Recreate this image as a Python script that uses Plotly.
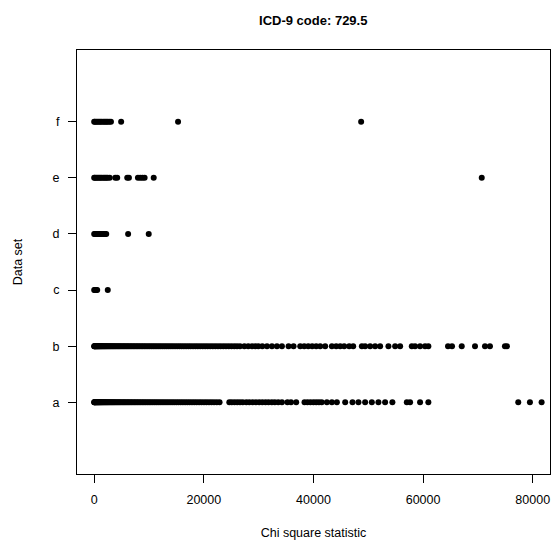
import plotly.graph_objects as go

# ---- data ----
categories = ["a", "b", "c", "d", "e", "f"]
cat_pos = [1, 2, 3, 4, 5, 6]

set_a = [0, 40, 90, 150, 230, 310, 400, 490, 580, 680, 780, 880, 990, 1100, 1220, 1340,
         1470, 1600, 1740, 1880, 2030, 2180, 2340, 2500, 2670, 2840, 3020, 3200, 3390,
         3580, 3780, 3980, 4190, 4400, 4620, 4840, 5070, 5300, 5540, 5780, 6030, 6280,
         6540, 6800, 7070, 7340, 7620, 7900, 8190, 8480, 8780, 9080, 9390, 9700, 10020,
         10340, 10670, 11000, 11340, 11680, 12030, 12380, 12740, 13100, 13470, 13840,
         14220, 14600, 14990, 15380, 15780, 16180, 16590, 17000, 17420, 17840, 18270,
         18700, 19140, 19580, 20030, 20480, 20940, 21400, 21870, 22370, 22870,
         24650, 25100, 25600, 26100, 26600, 27100, 27750, 28300, 28900, 29500, 30100,
         30670, 31250, 31800, 32400, 32950, 33580, 34250, 35250, 35900, 36850, 38370,
         38900, 39450, 40000, 40500, 41000, 41500, 42450, 43360, 44270, 45790, 47120,
         48210, 49430, 50650, 51850, 53070, 54400, 57030, 57630, 59450, 60960, 77360,
         79490, 81620]

set_b = [0, 50, 110, 180, 260, 350, 450, 550, 650, 760, 870, 990, 1110, 1240, 1370,
         1510, 1650, 1800, 1950, 2110, 2270, 2440, 2610, 2790, 2970, 3160, 3350, 3550,
         3750, 3960, 4170, 4390, 4610, 4840, 5070, 5310, 5550, 5800, 6050, 6310, 6570,
         6840, 7110, 7390, 7670, 7960, 8250, 8550, 8850, 9160, 9470, 9790, 10110, 10440,
         10770, 11110, 11450, 11800, 12150, 12510, 12870, 13240, 13610, 13990, 14370,
         14760, 15150, 15550, 15950, 16360, 16770, 17190, 17610, 18040, 18470, 18910,
         19350, 19800, 20250, 20710, 21170, 21640, 22110, 22590, 23070, 23560, 24050,
         24550, 25050, 25560, 26070, 26600,
         27400, 28110, 28800, 29390, 29940, 30670, 31520, 32430, 33340, 34250, 35460,
         36370, 37590, 38320, 39050, 39770, 40500, 41230, 42140, 43360, 44150, 44880,
         45610, 46520, 47250, 48830, 49430, 50340, 51250, 52160, 53680, 54900, 55810,
         57940, 58540, 59450, 60360, 60960, 64550, 65280, 67050, 69470, 71290, 72200,
         74930, 75300]

set_c = [0, 150, 350, 550, 2480]

set_d = [0, 150, 400, 650, 900, 1150, 1400, 1700, 1950, 2200, 6190, 9950]

set_e = [0, 150, 400, 650, 900, 1150, 1400, 1700, 1950, 2200, 2450, 2830, 3850, 4200,
         6030, 6340, 7980, 8400, 8800, 9200, 10860, 70700]

set_f = [0, 150, 400, 650, 900, 1150, 1400, 1700, 1950, 2200, 2450, 2750, 3060, 4920,
         15300, 48700]

x_ticks = [0, 20000, 40000, 60000, 80000]
x_tick_labels = ["0", "20000", "40000", "60000", "80000"]

title_text = "ICD-9 code: 729.5"
x_title = "Chi square statistic"
y_title = "Data set"

# ---- figure ----
series = [set_a, set_b, set_c, set_d, set_e, set_f]
fig = go.Figure()
for pos, vals in zip(cat_pos, series):
    fig.add_trace(go.Scatter(
        x=vals, y=[pos] * len(vals), mode="markers",
        marker=dict(color="black", size=6, line=dict(width=0)),
        showlegend=False, hoverinfo="x",
    ))

font_family = "Liberation Sans, Arial, sans-serif"
L, R, T, B = 76.5, 10, 50, 71.5
fig.update_layout(
    width=560, height=546,
    margin=dict(l=L, r=R, t=T, b=B, pad=0),
    paper_bgcolor="white", plot_bgcolor="white",
    font=dict(family=font_family, size=12, color="black"),
    title=dict(text="<b>" + title_text + "</b>", x=(L + 560 - R) / 2 / 560, xanchor="center",
               xref="container", y=1 - 20 / 546, yanchor="middle", yref="container",
               font=dict(size=13, family=font_family, color="black")),
)
fig.update_xaxes(
    range=[-3134, 83152], tickvals=x_ticks, ticktext=x_tick_labels,
    ticks="outside", ticklen=8, tickwidth=1, tickcolor="black",
    showline=True, linecolor="black", linewidth=1, mirror=True,
    showgrid=False, zeroline=False, automargin=False,
    tickfont=dict(size=12.5, color="black"), ticklabelstandoff=6,
    title=dict(text=x_title, font=dict(size=12.5, color="black"), standoff=22),
)
fig.update_yaxes(
    range=[-0.28, 7.28], tickvals=cat_pos, ticktext=categories,
    ticks="outside", ticklen=8, tickwidth=1, tickcolor="black",
    showline=True, linecolor="black", linewidth=1, mirror=True,
    showgrid=False, zeroline=False, automargin=False,
    tickfont=dict(size=12.5, color="black"), ticklabelstandoff=6,
    title=dict(text=y_title, font=dict(size=12.5, color="black"), standoff=27),
)

fig.write_html("out.html", config={"displayModeBar": False},
               post_script="document.body.style.margin='0';")
